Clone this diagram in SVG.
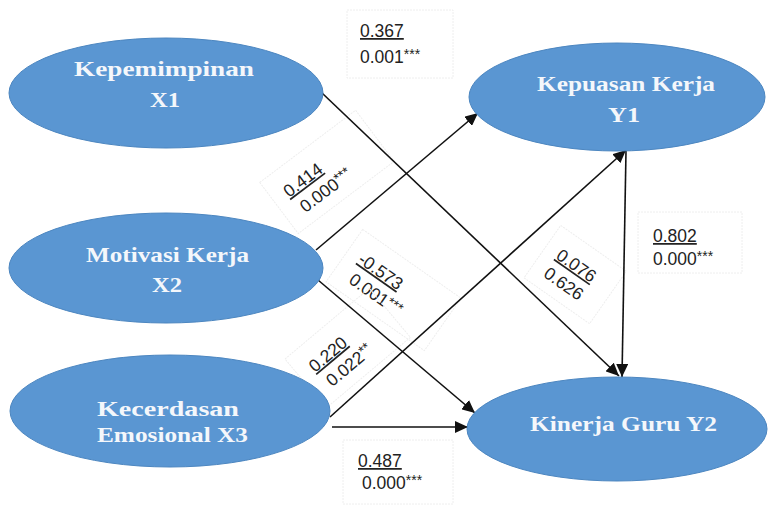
<svg xmlns="http://www.w3.org/2000/svg" width="769" height="506" viewBox="0 0 769 506">
<style>
.node{fill:#5A96D2;stroke:#4C86C0;stroke-width:1}
.nt{font-family:"Liberation Serif","Times New Roman",serif;font-weight:bold;font-size:21px;fill:#F4F7FB}
.lb{font-family:"Liberation Sans",Arial,sans-serif;font-size:17.5px;fill:#222}
.u{text-decoration:underline}
.st{font-size:14px}
.box{fill:none;stroke:#eeeeee;stroke-width:1;stroke-dasharray:2 1}
.edge{stroke:#111;stroke-width:1.6;fill:none;marker-end:url(#ah)}
</style>
<defs>
<marker id="ah" markerUnits="userSpaceOnUse" markerWidth="14" markerHeight="12" refX="13" refY="6" orient="auto">
<path d="M0,0 L13,6 L0,12 Z" fill="#111"/>
</marker>
</defs>
<rect width="769" height="506" fill="#fff"/>
<g id="labels">
<g id="l-x1y2">
<rect class="box" x="347" y="10" width="106" height="68"/>
<text class="lb u" x="360" y="37">0.367</text>
<text class="lb" x="360" y="63">0.001<tspan class="st" dy="-4">***</tspan></text>
</g>
<g id="l-x2y1" transform="translate(289,198) rotate(-37)">
<rect class="box" x="-14" y="-30" width="120" height="64"/>
<text class="lb u" x="0" y="0">0.414</text>
<text class="lb" x="4" y="22">0.000<tspan class="st" dy="-4">***</tspan></text>
</g>
<g id="l-x2y2" transform="translate(357,262) rotate(35)">
<rect class="box" x="-14" y="-30" width="120" height="64"/>
<text class="lb u" x="0" y="0">-0.573</text>
<text class="lb" x="4" y="22">0.001<tspan class="st" dy="-4">***</tspan></text>
</g>
<g id="l-x3y1" transform="translate(315,373) rotate(-40)">
<rect class="box" x="-14" y="-30" width="110" height="64"/>
<text class="lb u" x="0" y="0">0.220</text>
<text class="lb" x="4" y="22">0.022<tspan class="st" dy="-4">**</tspan></text>
</g>
<g id="l-x1y2b" transform="translate(555,258) rotate(35)">
<rect class="box" x="-14" y="-30" width="80" height="64"/>
<text class="lb u" x="0" y="0">0.076</text>
<text class="lb" x="0" y="22">0.626</text>
</g>
<g id="l-y1y2">
<rect class="box" x="638" y="212" width="104" height="61"/>
<text class="lb u" x="653" y="242">0.802</text>
<text class="lb" x="653" y="265">0.000<tspan class="st" dy="-4">***</tspan></text>
</g>
<g id="l-x3y2">
<rect class="box" x="343" y="440" width="110" height="64"/>
<text class="lb u" x="358" y="467">0.487</text>
<text class="lb" x="362" y="489">0.000<tspan class="st" dy="-4">***</tspan></text>
</g>
</g>
<g id="connectors">
<line class="edge" x1="322" y1="93" x2="619" y2="376"/>
<line class="edge" x1="316" y1="250" x2="478" y2="113"/>
<line class="edge" x1="318" y1="280" x2="475" y2="413"/>
<line class="edge" x1="330" y1="417" x2="626" y2="150"/>
<line class="edge" x1="332" y1="427" x2="468" y2="427"/>
<line class="edge" x1="626" y1="151" x2="622" y2="377"/>
</g>
<g id="X1">
<ellipse class="node" cx="166" cy="93" rx="157" ry="55"/>
<text class="nt" x="74" y="76" textLength="180" lengthAdjust="spacingAndGlyphs">Kepemimpinan</text>
<text class="nt" x="150" y="107" textLength="30" lengthAdjust="spacingAndGlyphs">X1</text>
</g>
<g id="X2">
<ellipse class="node" cx="166" cy="268" rx="157" ry="55"/>
<text class="nt" x="86" y="262" textLength="163" lengthAdjust="spacingAndGlyphs">Motivasi Kerja</text>
<text class="nt" x="152" y="292" textLength="30" lengthAdjust="spacingAndGlyphs">X2</text>
</g>
<g id="X3">
<ellipse class="node" cx="170" cy="411" rx="160" ry="56"/>
<text class="nt" x="97" y="416" textLength="142" lengthAdjust="spacingAndGlyphs">Kecerdasan</text>
<text class="nt" x="97" y="442" textLength="151" lengthAdjust="spacingAndGlyphs">Emosional X3</text>
</g>
<g id="Y1">
<ellipse class="node" cx="617" cy="97" rx="148" ry="54"/>
<text class="nt" x="537" y="91" textLength="178" lengthAdjust="spacingAndGlyphs">Kepuasan Kerja</text>
<text class="nt" x="608" y="122" textLength="32" lengthAdjust="spacingAndGlyphs">Y1</text>
</g>
<g id="Y2">
<ellipse class="node" cx="617" cy="429" rx="150" ry="52"/>
<text class="nt" x="530" y="431" textLength="187" lengthAdjust="spacingAndGlyphs">Kinerja Guru Y2</text>
</g>
</svg>
